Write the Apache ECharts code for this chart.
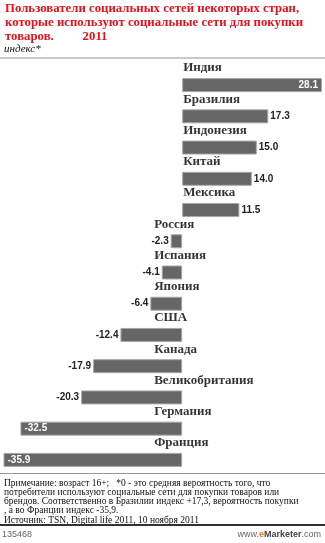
<!DOCTYPE html>
<html><head><meta charset="utf-8">
<script src="https://cdn.jsdelivr.net/npm/echarts@6/dist/echarts.min.js"></script>
<style>html,body{margin:0;padding:0;background:#fff}#c{width:325px;height:543px}</style>
</head><body><div id="c"></div>
<script>
const categories = ['Индия','Бразилия','Индонезия','Китай','Мексика','Россия','Испания','Япония','США','Канада','Великобритания','Германия','Франция'];
const values = [28.1,17.3,15.0,14.0,11.5,-2.3,-4.1,-6.4,-12.4,-17.9,-20.3,-32.5,-35.9];
const titleLines = ['Пользователи социальных сетей некоторых стран,','которые используют социальные сети для покупки','товаров.         2011'];
const subtitle = 'индекс*';
const noteLines = ['Примечание: возраст 16+;   *0 - это средняя вероятность того, что','потребители используют социальные сети для покупки товаров или','брендов. Соответственно в Бразилии индекс +17,3, вероятность покупки',', а во Франции индекс -35,9.','Источник: TSN, Digital life 2011, 10 ноября 2011'];
const footLeft = '135468';

const chart = echarts.init(document.getElementById('c'), null, {renderer:'canvas'});
const barData = values.map(v => {
  const inside = Math.abs(v) > 25;
  return {
    value: v,
    label: {
      position: v >= 0 ? (inside ? 'insideRight' : 'right') : (inside ? 'insideLeft' : 'left'),
      color: inside ? '#fff' : '#222',
      distance: inside ? 4 : 2
    }
  };
});
const nameData = values.map((v,i) => ({
  value: [0, categories[i]],
  label: { offset: v >= 0 ? [-4, -17] : [-33, -17] }
}));
const graphic = [];
titleLines.forEach((t,i) => graphic.push({type:'text', left:5, top:2+i*14, style:{text:t, fill:'#e8101a', font:'bold 12.8px "Liberation Serif", serif'}}));
graphic.push({type:'text', left:4, top:44, style:{text:subtitle, fill:'#111', font:'italic 11px "Liberation Serif", serif'}});
graphic.push({type:'rect', shape:{x:0,y:57,width:325,height:2}, style:{fill:'#c8c8c8'}});
graphic.push({type:'rect', shape:{x:0,y:473,width:325,height:1}, style:{fill:'#999'}});
noteLines.forEach((t,i) => graphic.push({type:'text', left:4, top:478+i*9.3, style:{text:t, fill:'#111', font:'9.5px "Liberation Serif", serif'}}));
graphic.push({type:'rect', shape:{x:0,y:524,width:325,height:2}, style:{fill:'#333'}});
graphic.push({type:'text', left:2, top:530, style:{text:footLeft, fill:'#666', font:'9px "Liberation Sans", sans-serif'}});
graphic.push({type:'text', right:4, top:530, style:{rich:{a:{fill:'#666',fontSize:9,fontFamily:'"Liberation Sans", sans-serif'},b:{fill:'#f07800',fontSize:9,fontWeight:'bold',fontFamily:'"Liberation Sans", sans-serif'},c:{fill:'#444',fontSize:9,fontWeight:'bold',fontFamily:'"Liberation Sans", sans-serif'}}, text:'{a|www.}{b|e}{c|Marketer}{a|.com}'}});

chart.setOption({
  animation:false,
  grid:{left:3, width:319, top:69.5, height:406},
  xAxis:{type:'value', min:-36, max:28.1, show:false},
  yAxis:{type:'category', data:categories, inverse:true, show:false},
  graphic: graphic,
  series:[
    {type:'bar', data:barData, barWidth:14, itemStyle:{color:'#666666', borderColor:'#a8a8a8', borderWidth:1},
     label:{show:true, fontWeight:'bold', fontSize:10, fontFamily:'"Liberation Sans", Arial, sans-serif', formatter:p=>p.value.toFixed(1)}},
    {type:'scatter', data:nameData, symbolSize:0, silent:true,
     label:{show:true, position:'right', color:'#000', fontWeight:'bold', fontSize:13, fontFamily:'"Liberation Serif", serif', formatter:p=>p.value[1]}}
  ]
});
</script></body></html>
